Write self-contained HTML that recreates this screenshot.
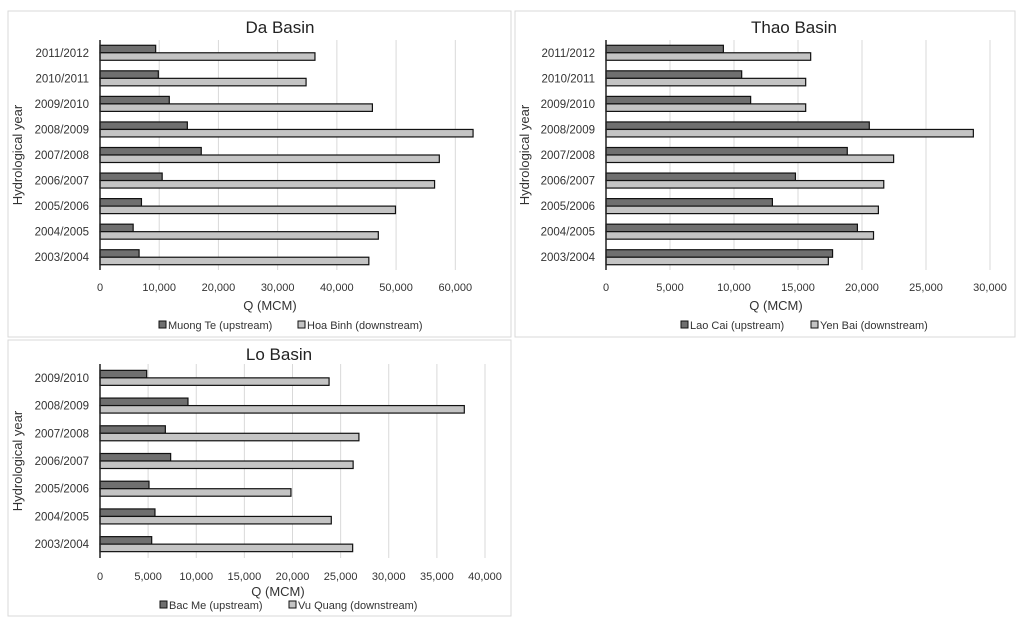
<!DOCTYPE html>
<html><head><meta charset="utf-8"><style>
body{margin:0;background:#fff;}
svg{display:block;font-family:"Liberation Sans",sans-serif;}
</style></head><body>
<svg id="s" width="1024" height="625" viewBox="0 0 1024 625"></svg>
<script>
const daCats=["2011/2012","2010/2011","2009/2010","2008/2009","2007/2008","2006/2007","2005/2006","2004/2005","2003/2004"];
const daUp=[9400,9850,11700,14750,17100,10500,7000,5600,6600];
const daDown=[36300,34800,46000,63000,57300,56500,49900,47000,45400];
const daTicks=[0,10000,20000,30000,40000,50000,60000];
const thCats=["2011/2012","2010/2011","2009/2010","2008/2009","2007/2008","2006/2007","2005/2006","2004/2005","2003/2004"];
const thUp=[9170,10600,11300,20570,18850,14800,13000,19640,17700];
const thDown=[15990,15600,15600,28700,22470,21700,21280,20900,17370];
const thTicks=[0,5000,10000,15000,20000,25000,30000];
const loCats=["2009/2010","2008/2009","2007/2008","2006/2007","2005/2006","2004/2005","2003/2004"];
const loUp=[4850,9140,6790,7340,5090,5710,5370];
const loDown=[23800,37850,26900,26300,19840,24030,26250];
const loTicks=[0,5000,10000,15000,20000,25000,30000,35000,40000];

const NS="http://www.w3.org/2000/svg";
const svg=document.getElementById('s');
function mk(tag,attrs,parent,text){const e=document.createElementNS(NS,tag);for(const k in attrs)e.setAttribute(k,attrs[k]);if(text!==undefined)e.textContent=text;parent.appendChild(e);return e;}
function fmt(v){return v.toLocaleString('en-US');}

function chart(o){
  const g=mk('g',{},svg);
  
  
  const fr=mk('rect',{x:o.bx,y:o.by,width:o.bw,height:o.bh,fill:'#fff',stroke:'#d9d9d9','stroke-width':1},g);
  
  const t=mk('text',{x:o.titleX,y:o.titleY,'font-size':17,'text-anchor':'middle',fill:'#222'},g,o.title);
  
  const max=o.ticks[o.ticks.length-1];
  const xs=v=>o.x0+(v/max)*(o.x1-o.x0);
  o.ticks.forEach(tk=>{
    const l=mk('line',{x1:xs(tk),x2:xs(tk),y1:o.top,y2:o.bot,stroke:'#d9d9d9','stroke-width':1},g);
    
    const tl=mk('text',{x:xs(tk),y:o.tickY,'font-size':11,'text-anchor':'middle',fill:'#333'},g,fmt(tk));
    
  });
  const band=(o.bot-o.top)/o.cats.length;
  const bh=7.5;
  o.cats.forEach((c,i)=>{
    const cy=o.top+band*(i+0.5);
    const cl=mk('text',{x:o.x0-11,y:cy+4,'font-size':11.5,'text-anchor':'end',fill:'#333'},g,c);
    
    const r1=mk('rect',{x:o.x0,y:cy-bh,width:xs(o.up[i])-o.x0,height:bh,fill:'#6f6f6f',stroke:'#111','stroke-width':1.2},g);
    
    const r2=mk('rect',{x:o.x0,y:cy,width:xs(o.down[i])-o.x0,height:bh,fill:'#c4c4c4',stroke:'#111','stroke-width':1.2},g);
    
  });
  const ax=mk('line',{x1:o.x0,x2:o.x0,y1:o.top,y2:o.bot,stroke:'#222','stroke-width':1.5},g);
  
  const xt=mk('text',{x:o.qX,y:o.qY,'font-size':13,'text-anchor':'middle',fill:'#333'},g,'Q (MCM)');
  
  const yt=mk('text',{x:0,y:0,'font-size':13,'text-anchor':'middle',fill:'#333',transform:`translate(${o.bx+14},${(o.top+o.bot)/2}) rotate(-90)`},g,'Hydrological year');
  
  [[o.leg1X,o.leg1,'#6f6f6f'],[o.leg2X,o.leg2,'#c4c4c4']].forEach(([lx,txt,col])=>{
    const lg=mk('g',{},g);
    
    mk('rect',{x:lx,y:o.legY-8,width:7,height:7,fill:col,stroke:'#111','stroke-width':1},lg);
    mk('text',{x:lx+9,y:o.legY,'font-size':11,fill:'#333'},lg,txt);
  });
}
chart({name:'da-basin-chart',title:'Da Basin',bx:8,by:11,bw:503,bh:326,titleX:280,titleY:33,x0:100,x1:455.3,top:40,bot:270,tickY:291,qX:270,qY:310,legY:329,leg1X:159,leg1:'Muong Te (upstream)',leg2X:298,leg2:'Hoa Binh (downstream)',cats:daCats,up:daUp,down:daDown,ticks:daTicks});
chart({name:'thao-basin-chart',title:'Thao Basin',bx:515,by:11,bw:500,bh:326,titleX:794,titleY:33,x0:606,x1:990,top:40,bot:270,tickY:291,qX:776,qY:310,legY:329,leg1X:681,leg1:'Lao Cai (upstream)',leg2X:811,leg2:'Yen Bai (downstream)',cats:thCats,up:thUp,down:thDown,ticks:thTicks});
chart({name:'lo-basin-chart',title:'Lo Basin',bx:8,by:340,bw:503,bh:276,titleX:279,titleY:360,x0:100,x1:485,top:364,bot:558,tickY:580,qX:278,qY:596,legY:609,leg1X:160,leg1:'Bac Me (upstream)',leg2X:289,leg2:'Vu Quang (downstream)',cats:loCats,up:loUp,down:loDown,ticks:loTicks});
</script>
</body></html>
